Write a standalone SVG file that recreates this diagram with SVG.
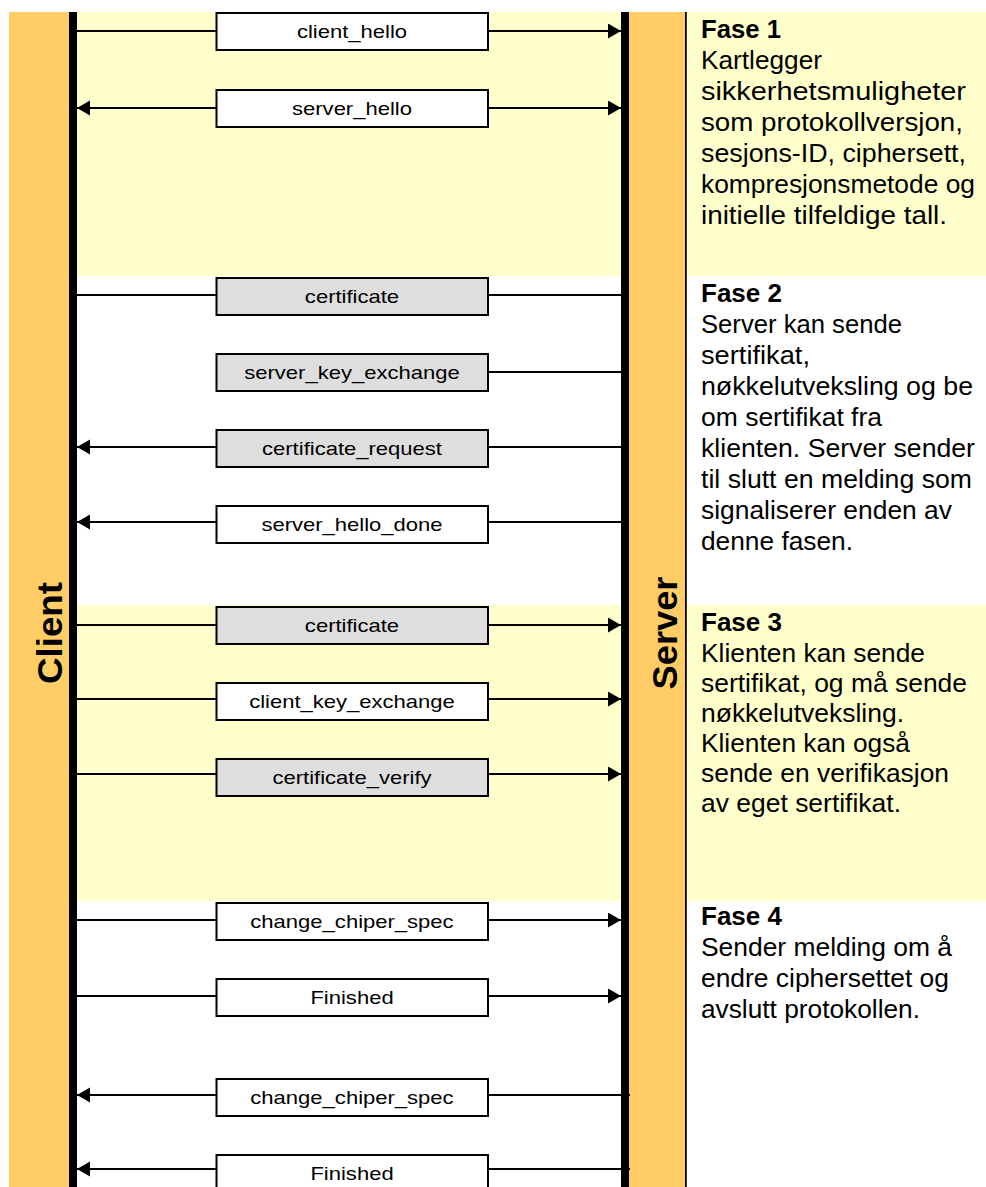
<svg xmlns="http://www.w3.org/2000/svg" width="986" height="1187" viewBox="0 0 986 1187">
  <style>
    .lane { fill: #FFCC66; }
    .bar { fill: #000000; }
    .band { fill: #FFFFCC; }
    .msg { stroke: #000000; stroke-width: 2; }
    .box { stroke: #000000; stroke-width: 2; fill: #FFFFFF; }
    .box.opt { fill: #DEDEDE; }
    .lbl { font-family: "Liberation Sans", Arial, sans-serif; font-size: 19px; fill: #000000; text-anchor: middle; }
    .note { font-family: "Liberation Sans", Arial, sans-serif; font-size: 25px; fill: #000000; }
    .note .head { font-weight: bold; }
    .actor { font-family: "Liberation Sans", Arial, sans-serif; font-size: 31px; font-weight: bold; fill: #000000; text-anchor: middle; }
  </style>
  <defs>
    <marker id="head" markerUnits="userSpaceOnUse" markerWidth="14" markerHeight="16" refX="13" refY="7.5" orient="auto" viewBox="0 0 14 16">
      <path d="M0,0 L13,7.5 L0,15 Z" fill="#000000"/>
    </marker>
  </defs>

  <rect width="986" height="1187" fill="#FFFFFF"/>

  <!-- phase backgrounds -->
  <g id="phase-bands">
    <rect class="band" x="77" y="12" width="544" height="264"/>
    <rect class="band" x="687" y="12" width="299" height="264"/>
    <rect class="band" x="77" y="605" width="544" height="296"/>
    <rect class="band" x="687" y="605" width="299" height="296"/>
  </g>

  <!-- client lifeline -->
  <g id="client">
    <rect class="lane" x="9" y="12" width="60" height="1175"/>
    <rect class="bar" x="69" y="12" width="8" height="1175"/>
    <text class="actor" transform="translate(61.5,633) rotate(-90) scale(1,1.12)" textLength="102" lengthAdjust="spacingAndGlyphs">Client</text>
  </g>

  <!-- server lifeline -->
  <g id="server">
    <rect class="bar" x="621" y="12" width="8" height="1175"/>
    <rect class="lane" x="629" y="12" width="56" height="1175"/>
    <rect class="bar" x="685" y="12" width="1.8" height="1175"/>
    <text class="actor" transform="translate(677,633) rotate(-90) scale(1,1.12)" textLength="113" lengthAdjust="spacingAndGlyphs">Server</text>
  </g>

  <!-- message connectors -->
  <g id="connectors">
    <!-- phase 1 -->
    <line class="msg" x1="77" y1="31" x2="216" y2="31"/>
    <line class="msg" x1="489" y1="31" x2="621" y2="31" marker-end="url(#head)"/>
    <line class="msg" x1="216" y1="108" x2="77" y2="108" marker-end="url(#head)"/>
    <line class="msg" x1="489" y1="108" x2="621" y2="108" marker-end="url(#head)"/>
    <!-- phase 2 -->
    <line class="msg" x1="77" y1="295" x2="216" y2="295"/>
    <line class="msg" x1="489" y1="295" x2="623" y2="295"/>
    <line class="msg" x1="489" y1="372" x2="623" y2="372"/>
    <line class="msg" x1="216" y1="447" x2="77" y2="447" marker-end="url(#head)"/>
    <line class="msg" x1="489" y1="447" x2="623" y2="447"/>
    <line class="msg" x1="216" y1="522" x2="77" y2="522" marker-end="url(#head)"/>
    <line class="msg" x1="489" y1="522" x2="623" y2="522"/>
    <!-- phase 3 -->
    <line class="msg" x1="77" y1="625" x2="216" y2="625"/>
    <line class="msg" x1="489" y1="625" x2="621" y2="625" marker-end="url(#head)"/>
    <line class="msg" x1="77" y1="699" x2="216" y2="699"/>
    <line class="msg" x1="489" y1="699" x2="621" y2="699" marker-end="url(#head)"/>
    <line class="msg" x1="77" y1="774" x2="216" y2="774"/>
    <line class="msg" x1="489" y1="774" x2="621" y2="774" marker-end="url(#head)"/>
    <!-- phase 4 -->
    <line class="msg" x1="77" y1="920" x2="216" y2="920"/>
    <line class="msg" x1="489" y1="920" x2="621" y2="920" marker-end="url(#head)"/>
    <line class="msg" x1="77" y1="996" x2="216" y2="996"/>
    <line class="msg" x1="489" y1="996" x2="621" y2="996" marker-end="url(#head)"/>
    <line class="msg" x1="216" y1="1095" x2="77" y2="1095" marker-end="url(#head)"/>
    <line class="msg" x1="489" y1="1095" x2="630" y2="1095"/>
    <line class="msg" x1="216" y1="1169" x2="77" y2="1169" marker-end="url(#head)"/>
    <line class="msg" x1="489" y1="1169" x2="630" y2="1169"/>
  </g>

  <!-- message boxes -->
  <g id="msg-client-hello">
    <rect class="box" x="216.5" y="13" width="271.5" height="37"/>
    <text class="lbl" transform="translate(352,38) scale(1.16,1)">client_hello</text>
  </g>
  <g id="msg-server-hello">
    <rect class="box" x="216.5" y="90" width="271.5" height="37"/>
    <text class="lbl" transform="translate(352,115) scale(1.16,1)">server_hello</text>
  </g>
  <g id="msg-server-certificate">
    <rect class="box opt" x="216.5" y="278" width="271.5" height="37"/>
    <text class="lbl" transform="translate(352,303) scale(1.16,1)">certificate</text>
  </g>
  <g id="msg-server-key-exchange">
    <rect class="box opt" x="216.5" y="354" width="271.5" height="37"/>
    <text class="lbl" transform="translate(352,379) scale(1.16,1)">server_key_exchange</text>
  </g>
  <g id="msg-certificate-request">
    <rect class="box opt" x="216.5" y="430" width="271.5" height="37"/>
    <text class="lbl" transform="translate(352,455) scale(1.16,1)">certificate_request</text>
  </g>
  <g id="msg-server-hello-done">
    <rect class="box" x="216.5" y="506" width="271.5" height="37"/>
    <text class="lbl" transform="translate(352,531) scale(1.16,1)">server_hello_done</text>
  </g>
  <g id="msg-client-certificate">
    <rect class="box opt" x="216.5" y="607" width="271.5" height="37"/>
    <text class="lbl" transform="translate(352,632) scale(1.16,1)">certificate</text>
  </g>
  <g id="msg-client-key-exchange">
    <rect class="box" x="216.5" y="683" width="271.5" height="37"/>
    <text class="lbl" transform="translate(352,708) scale(1.16,1)">client_key_exchange</text>
  </g>
  <g id="msg-certificate-verify">
    <rect class="box opt" x="216.5" y="759" width="271.5" height="37"/>
    <text class="lbl" transform="translate(352,784) scale(1.16,1)">certificate_verify</text>
  </g>
  <g id="msg-change-cipher-client">
    <rect class="box" x="216.5" y="903" width="271.5" height="37"/>
    <text class="lbl" transform="translate(352,928) scale(1.16,1)">change_chiper_spec</text>
  </g>
  <g id="msg-finished-client">
    <rect class="box" x="216.5" y="979" width="271.5" height="37"/>
    <text class="lbl" transform="translate(352,1004) scale(1.16,1)">Finished</text>
  </g>
  <g id="msg-change-cipher-server">
    <rect class="box" x="216.5" y="1079" width="271.5" height="37"/>
    <text class="lbl" transform="translate(352,1104) scale(1.16,1)">change_chiper_spec</text>
  </g>
  <g id="msg-finished-server">
    <rect class="box" x="216.5" y="1155" width="271.5" height="37"/>
    <text class="lbl" transform="translate(352,1180) scale(1.16,1)">Finished</text>
  </g>

  <!-- phase descriptions: each line fitted to its column width -->
  <g id="note-phase-1" class="note">
    <text x="701" y="38" class="head" textLength="80" lengthAdjust="spacingAndGlyphs">Fase 1</text>
    <text x="701" y="69" textLength="121" lengthAdjust="spacingAndGlyphs">Kartlegger</text>
    <text x="701" y="100" textLength="265" lengthAdjust="spacingAndGlyphs">sikkerhetsmuligheter</text>
    <text x="701" y="131" textLength="262" lengthAdjust="spacingAndGlyphs">som protokollversjon,</text>
    <text x="701" y="162" textLength="265" lengthAdjust="spacingAndGlyphs">sesjons-ID, ciphersett,</text>
    <text x="701" y="193" textLength="274" lengthAdjust="spacingAndGlyphs">kompresjonsmetode og</text>
    <text x="701" y="224" textLength="246" lengthAdjust="spacingAndGlyphs">initielle tilfeldige tall.</text>
  </g>
  <g id="note-phase-2" class="note">
    <text x="701" y="302" class="head" textLength="81" lengthAdjust="spacingAndGlyphs">Fase 2</text>
    <text x="701" y="333" textLength="201" lengthAdjust="spacingAndGlyphs">Server kan sende</text>
    <text x="701" y="364" textLength="109" lengthAdjust="spacingAndGlyphs">sertifikat,</text>
    <text x="701" y="395" textLength="272" lengthAdjust="spacingAndGlyphs">nøkkelutveksling og be</text>
    <text x="701" y="426" textLength="181" lengthAdjust="spacingAndGlyphs">om sertifikat fra</text>
    <text x="701" y="457" textLength="274" lengthAdjust="spacingAndGlyphs">klienten. Server sender</text>
    <text x="701" y="488" textLength="271" lengthAdjust="spacingAndGlyphs">til slutt en melding som</text>
    <text x="701" y="519" textLength="251" lengthAdjust="spacingAndGlyphs">signaliserer enden av</text>
    <text x="701" y="550" textLength="152" lengthAdjust="spacingAndGlyphs">denne fasen.</text>
  </g>
  <g id="note-phase-3" class="note">
    <text x="701" y="631" class="head" textLength="81" lengthAdjust="spacingAndGlyphs">Fase 3</text>
    <text x="701" y="662" textLength="224" lengthAdjust="spacingAndGlyphs">Klienten kan sende</text>
    <text x="701" y="692" textLength="266" lengthAdjust="spacingAndGlyphs">sertifikat, og må sende</text>
    <text x="701" y="722" textLength="203" lengthAdjust="spacingAndGlyphs">nøkkelutveksling.</text>
    <text x="701" y="752" textLength="209" lengthAdjust="spacingAndGlyphs">Klienten kan også</text>
    <text x="701" y="782" textLength="248" lengthAdjust="spacingAndGlyphs">sende en verifikasjon</text>
    <text x="701" y="812" textLength="200" lengthAdjust="spacingAndGlyphs">av eget sertifikat.</text>
  </g>
  <g id="note-phase-4" class="note">
    <text x="701" y="925" class="head" textLength="81" lengthAdjust="spacingAndGlyphs">Fase 4</text>
    <text x="701" y="956" textLength="251" lengthAdjust="spacingAndGlyphs">Sender melding om å</text>
    <text x="701" y="987" textLength="248" lengthAdjust="spacingAndGlyphs">endre ciphersettet og</text>
    <text x="701" y="1018" textLength="219" lengthAdjust="spacingAndGlyphs">avslutt protokollen.</text>
  </g>
</svg>
